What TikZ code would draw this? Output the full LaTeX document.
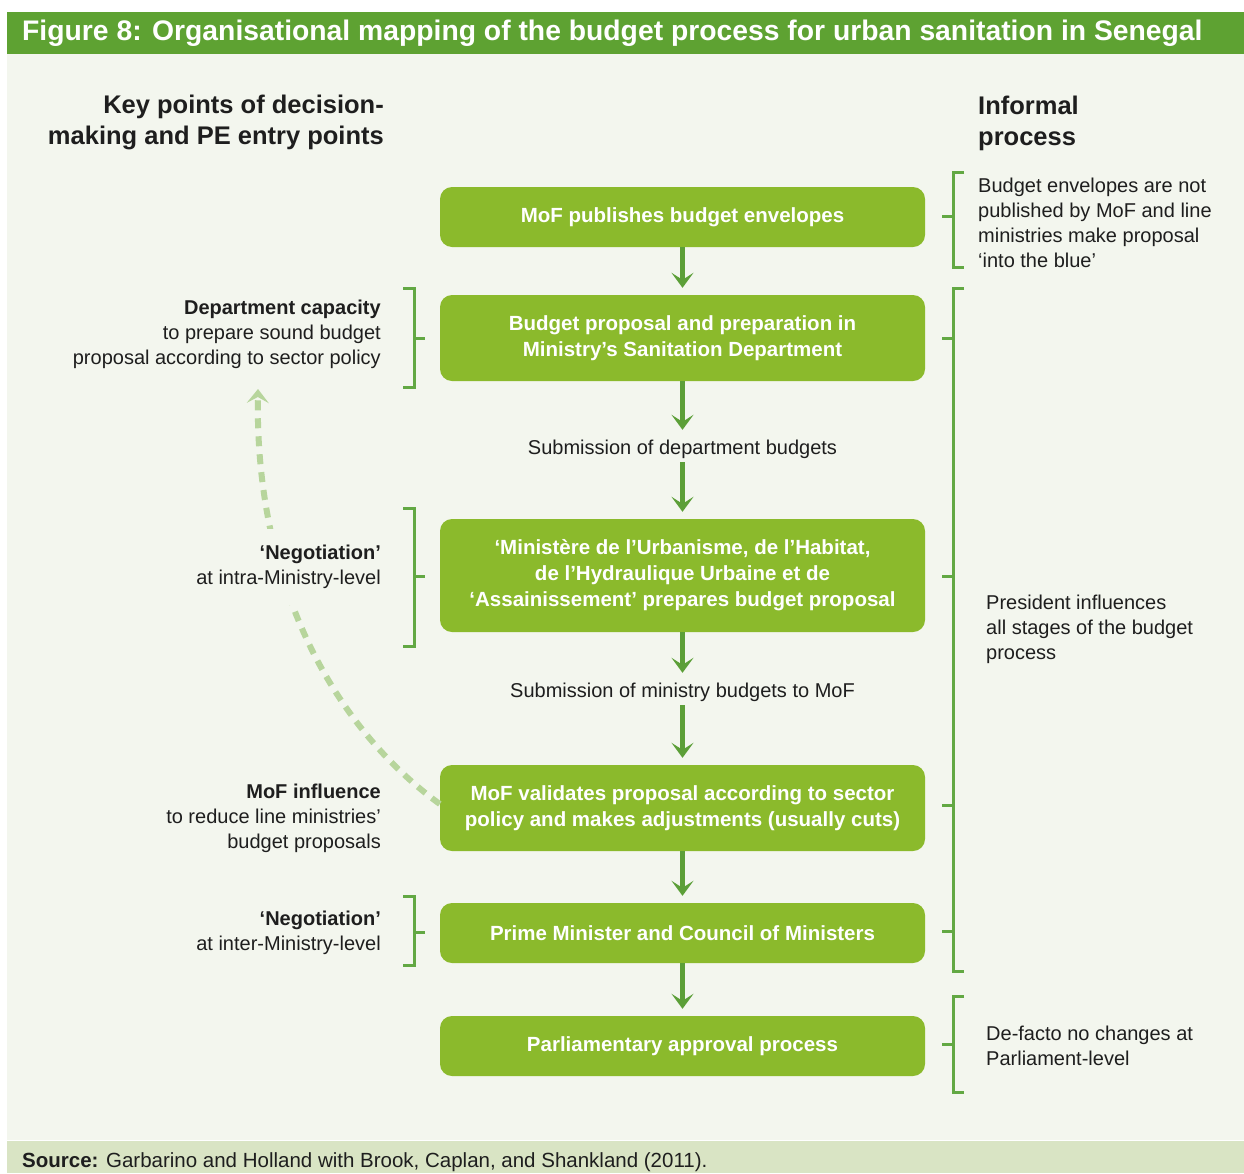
\documentclass[tikz,border=0pt]{standalone}
\usepackage{fontspec}
\setmainfont{Liberation Sans}
\usetikzlibrary{arrows.meta}
\definecolor{titlegreen}{HTML}{5EA232}
\definecolor{boxgreen}{HTML}{8BBA2C}
\definecolor{arrowgreen}{HTML}{5C9F38}
\definecolor{brackgreen}{HTML}{62A843}
\definecolor{dashgreen}{HTML}{B7D59C}
\definecolor{bgcream}{HTML}{F3F6EE}
\definecolor{srcbar}{HTML}{D9E4C4}
\definecolor{txt}{HTML}{1E1E1E}
\begin{document}
\begin{tikzpicture}[x=1pt,y=-1pt,
  stepbox/.style={fill=boxgreen, rounded corners=12pt, minimum width=485pt, text=white,
    font=\fontsize{20.5}{26}\selectfont\bfseries, align=center, inner sep=0pt},
  flow/.style={draw=arrowgreen, line width=4.5pt, -{Stealth[length=15pt,width=22pt,inset=7pt]}, shorten >=7pt},
  midtext/.style={font=\fontsize{20}{25}\selectfont, text=txt, minimum height=26pt, inner sep=0pt},
  ltext/.style={font=\fontsize{20}{25}\selectfont, text=txt, align=right, anchor=east, inner sep=0pt},
  rtext/.style={font=\fontsize{20}{25}\selectfont, text=txt, align=left, anchor=west, inner sep=0pt},
  head/.style={font=\fontsize{25.5}{31}\selectfont\bfseries, text=txt, inner sep=0pt},
  brack/.style={draw=brackgreen, line width=3pt},
  dashcurve/.style={draw=dashgreen, line width=6pt, dash pattern=on 10pt off 8pt,
    -{Stealth[length=14pt,width=22pt,inset=6pt]}},
]
\useasboundingbox (0,0) rectangle (1244,1173);
\fill[white] (0,0) rectangle (1244,1173);
\fill[bgcream] (7,54) rectangle (1244,1140);
\fill[titlegreen] (7,12) rectangle (1244,54);
\fill[srcbar] (7,1141) rectangle (1244,1173);

\node[anchor=west, text=white, font=\fontsize{28.3}{32}\selectfont\bfseries, inner sep=0pt] (title) at (22,33)
  {Figure 8: Organisational mapping of the budget process for urban sanitation in Senegal};
\node[anchor=west, text=txt, font=\fontsize{20.5}{24}\selectfont, inner sep=0pt] (src) at (22,1162)
  {\textbf{Source:} Garbarino and Holland with Brook, Caplan, and Shankland (2011).};

% headings
\node[head, align=right, anchor=east] (lhead) at (384,122) {Key points of decision-\\making and PE entry points};
\node[head, align=left, anchor=west] (rhead) at (978,123) {Informal\\process};

% dashed influence curve (drawn before texts so text hides it)
\node[stepbox, minimum height=86pt] (b4) at (682.5,808) {MoF validates proposal according to sector\\policy and makes adjustments (usually cuts)};
\coordinate (dtip) at (258,389);
\draw[dashcurve] ([yshift=4pt]b4.west) .. controls +(-110,-80) and +(-3,190) .. (dtip);

% boxes
\node[stepbox, minimum height=60pt] (b1) at (682.5,217) {MoF publishes budget envelopes};
\node[stepbox, minimum height=86pt] (b2) at (682.5,338) {Budget proposal and preparation in\\Ministry’s Sanitation Department};
\node[stepbox, minimum height=113pt] (b3) at (682.5,575.5) {‘Ministère de l’Urbanisme, de l’Habitat,\\de l’Hydraulique Urbaine et de\\‘Assainissement’ prepares budget proposal};
\node[stepbox, minimum height=60pt] (b5) at (682.5,933) {Prime Minister and Council of Ministers};
\node[stepbox, minimum height=60pt] (b6) at (682.5,1046) {Parliamentary approval process};

\node[midtext] (s1) at (682.5,449) {Submission of department budgets};
\node[midtext] (s2) at (682.5,692) {Submission of ministry budgets to MoF};

% flow arrows
\draw[flow] (b1.south) -- (b2.north);
\draw[flow, shorten >=6pt] (b2.south) -- (s1.north);
\draw[flow] (s1.south) -- (b3.north);
\draw[flow, shorten >=6pt] (b3.south) -- (s2.north);
\draw[flow] (s2.south) -- (b4.north);
\draw[flow] (b4.south) -- (b5.north);
\draw[flow] (b5.south) -- (b6.north);

% left texts
\node[ltext] (l1) at (381,334) {\textbf{Department capacity}\\to prepare sound budget\ \\proposal according to sector policy};
\node[ltext, fill=bgcream, inner ysep=16pt] (l2) at (381,567) {\textbf{‘Negotiation’}\\at intra-Ministry-level};
\node[ltext] (l3) at (381,818) {\textbf{MoF influence}\\to reduce line ministries’\\budget proposals};
\node[ltext] (l4) at (381,933) {\textbf{‘Negotiation’}\\at inter-Ministry-level};

% right texts
\node[rtext] (r1) at (978,223) {Budget envelopes are not\\published by MoF and line\\ministries make proposal\\‘into the blue’};
\node[rtext] (r2) at (986,629) {President influences\\all stages of the budget\\process};
\node[rtext] (r3) at (986,1046) {De-facto no changes at\\Parliament-level};

% left brackets
\draw[brack] (403,288) -- (414,288) -- (414,387) -- (403,387);
\draw[brack] (414,338) -- (425,338);
\draw[brack] (403,508) -- (414,508) -- (414,646) -- (403,646);
\draw[brack] (414,576) -- (425,576);
\draw[brack] (403,896) -- (414,896) -- (414,965) -- (403,965);
\draw[brack] (414,932) -- (425,932);

% right brackets
\draw[brack] (964,172) -- (953,172) -- (953,267) -- (964,267);
\draw[brack] (942,216) -- (953,216);
\draw[brack] (964,288) -- (953,288) -- (953,971) -- (964,971);
\draw[brack] (942,338) -- (953,338);
\draw[brack] (942,576) -- (953,576);
\draw[brack] (942,805) -- (953,805);
\draw[brack] (942,931) -- (953,931);
\draw[brack] (964,996) -- (953,996) -- (953,1092) -- (964,1092);
\draw[brack] (942,1044) -- (953,1044);
\end{tikzpicture}
\end{document}
